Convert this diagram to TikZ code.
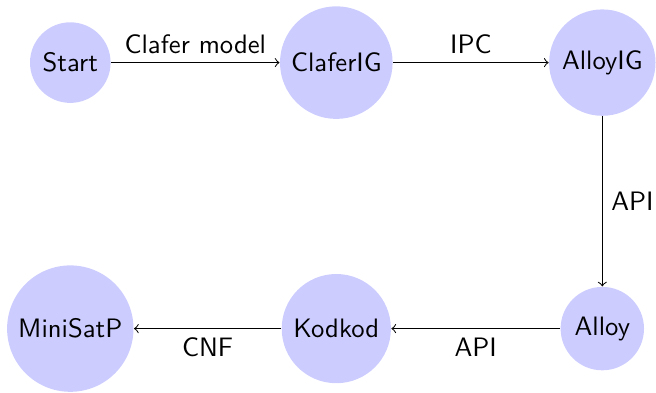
\documentclass[tikz,border=0pt]{standalone}
\usetikzlibrary{arrows}
\begin{document}
\begin{tikzpicture}[x=0.39pt,y=-0.39pt,
  every node/.style={font=\fontsize{10.4}{12.5}\sffamily},
  state/.style={circle,fill=blue!20,inner sep=0pt},
  conn/.style={->,line width=0.4pt}]
\useasboundingbox (0,0) rectangle (656,392);
\node[state,minimum size=80.6*0.39pt] (start) at (70.3,62.6) {Start};
\node[state,minimum size=112.6*0.39pt] (clafer) at (336.3,62.6) {ClaferIG};
\node[state,minimum size=106.4*0.39pt] (alloyig) at (602.3,62.6) {AlloyIG};
\node[state,minimum size=83.4*0.39pt] (alloy) at (602.3,328.6) {Alloy};
\node[state,minimum size=109.2*0.39pt] (kodkod) at (336.3,328.6) {Kodkod};
\node[state,minimum size=126.4*0.39pt] (minisat) at (70.3,328.6) {MiniSatP};
\draw[conn] (start) -- node[above] {Clafer model} (clafer);
\draw[conn] (clafer) -- node[above] {IPC} (alloyig);
\draw[conn] (alloyig) -- node[right] {API} (alloy);
\draw[conn] (alloy) -- node[below] {API} (kodkod);
\draw[conn] (kodkod) -- node[below] {CNF} (minisat);
\end{tikzpicture}
\end{document}
